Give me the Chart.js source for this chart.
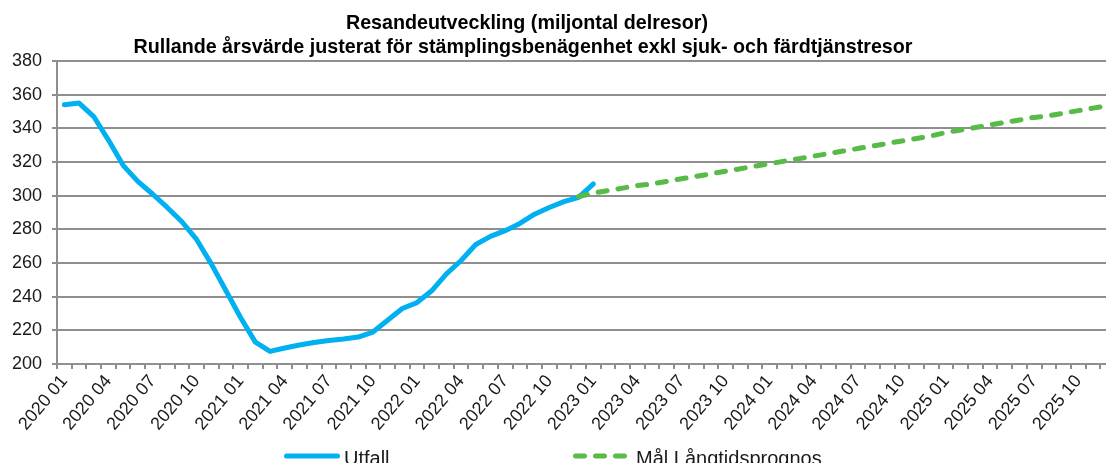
<!DOCTYPE html>
<html>
<head>
<meta charset="utf-8">
<script src="https://cdn.jsdelivr.net/npm/chart.js@4.4.1/dist/chart.umd.min.js"></script>
<style>
  html, body { margin: 0; padding: 0; overflow: hidden; background: #ffffff; width: 1106px; height: 463px; }
  canvas { display: block; }
</style>
</head>
<body>
<canvas id="c" width="1115" height="463" style="width:1115px;height:463px"></canvas>
<script>
// ---- Data ----
const titleLines = [
  'Resandeutveckling (miljontal delresor)',
  'Rullande årsvärde justerat för stämplingsbenägenhet exkl sjuk- och färdtjänstresor'
];
const years = ['2020', '2021', '2022', '2023', '2024', '2025'];
const months = ['01', '02', '03', '04', '05', '06', '07', '08', '09', '10', '11', '12'];
const categories = [];
for (const y of years) for (const m of months) categories.push(y + ' ' + m);

const yTicks = [200, 220, 240, 260, 280, 300, 320, 340, 360, 380];
const seriesNames = ['Utfall', 'Mål Långtidsprognos'];

// Utfall: 2020 01 .. 2023 01
const utfall = [
  354, 355, 347, 333, 318, 308.5, 301, 293, 284.5, 274, 259.5, 243.5,
  227.5, 213, 207.5, 209.5, 211.3, 212.8, 214, 214.8, 216, 219, 226, 233,
  236.5, 243.5, 253.5, 261.5, 271, 275.8, 279.2, 283.5, 289, 293, 296.5, 299,
  307
];
// Mål Långtidsprognos: 2022 12 .. 2025 12
const malStart = '2022 12';
const malLangtid = [
  299.5,
  301.5, 303, 304.5, 306, 307, 308.5, 310, 311.5, 313, 314.5, 316, 317.5,
  319, 320.5, 322, 323.5, 325, 326.5, 328, 329.5, 331, 332.5, 334, 335.5,
  337.5, 339, 340.5, 342, 343.5, 345, 346.5, 347.5, 349, 350.5, 352, 353.5
];

// ---- Build full-length series for the category axis ----
const utfallFull = categories.map((c, i) => (i < utfall.length ? utfall[i] : null));
const malOffset = categories.indexOf(malStart);
const malFull = categories.map((c, i) => (i >= malOffset && i - malOffset < malLangtid.length ? malLangtid[i - malOffset] : null));

const BLUE = '#00B0F0';
const GREEN = '#58BA47';
const GRID = '#8f8f8f';
const TEXT = '#1a1a1a';
const FONT = '"Liberation Sans", Arial, sans-serif';

const textPlugin = {
  id: 'textPlugin',
  afterDraw(chart) {
    const ctx = chart.ctx;
    ctx.save();
    // Title
    ctx.fillStyle = '#000000';
    ctx.textAlign = 'center';
    ctx.textBaseline = 'alphabetic';
    ctx.font = 'bold 19.7px ' + FONT;
    ctx.fillText(titleLines[0], 527, 29);
    ctx.fillText(titleLines[1], 523, 53);
    // Legend
    const ds = chart.data.datasets;
    const items = [
      { x0: 286.5, x1: 337.5, tx: 344 },
      { x0: 575.5, x1: 625.5, tx: 636 }
    ];
    ctx.textAlign = 'left';
    ctx.font = '20px ' + FONT;
    items.forEach((it, k) => {
      const d = ds[k];
      ctx.beginPath();
      ctx.strokeStyle = d.borderColor;
      ctx.lineWidth = d.borderWidth;
      ctx.lineCap = 'round';
      ctx.setLineDash(d.borderDash || []);
      ctx.moveTo(it.x0, 456);
      ctx.lineTo(it.x1, 456);
      ctx.stroke();
      ctx.setLineDash([]);
      ctx.fillStyle = TEXT;
      ctx.fillText(d.label, it.tx, 465);
    });
    ctx.restore();
  }
};

new Chart(document.getElementById('c'), {
  type: 'line',
  data: {
    labels: categories,
    datasets: [
      {
        label: seriesNames[0], data: utfallFull, borderColor: BLUE, backgroundColor: BLUE,
        borderWidth: 5, pointRadius: 0, pointHoverRadius: 0, tension: 0, fill: false,
        borderJoinStyle: 'round', borderCapStyle: 'round', order: 2
      },
      {
        label: seriesNames[1], data: malFull, borderColor: GREEN, backgroundColor: GREEN,
        borderWidth: 5, borderDash: [9, 11], borderCapStyle: 'round', pointRadius: 0,
        pointHoverRadius: 0, tension: 0, fill: false, order: 1
      }
    ]
  },
  options: {
    responsive: false,
    animation: false,
    devicePixelRatio: 1,
    layout: { padding: { top: 61, left: 0, right: 0, bottom: 0 } },
    plugins: { legend: { display: false }, title: { display: false }, tooltip: { enabled: false } },
    scales: {
      x: {
        offset: true,
        grid: { offset: true, drawOnChartArea: false, drawTicks: true, tickLength: 5, color: GRID, lineWidth: 2 },
        border: { display: true, color: GRID, width: 2 },
        ticks: {
          autoSkip: false, minRotation: 50, maxRotation: 50, padding: 2, color: TEXT,
          font: { family: FONT, size: 18 },
          callback: (v, i) => (i % 3 === 0 ? categories[i] : '')
        },
        afterFit: (s) => { s.height = 99; s.paddingLeft = 0; s.paddingRight = 0; }
      },
      y: {
        min: yTicks[0], max: yTicks[yTicks.length - 1],
        afterBuildTicks: (s) => { s.ticks = yTicks.map(v => ({ value: v })); },
        grid: { color: GRID, lineWidth: 2, tickLength: 5, drawTicks: true },
        border: { display: true, color: GRID, width: 2 },
        ticks: { padding: 10, color: TEXT, font: { family: FONT, size: 18 } },
        afterFit: (s) => { s.width = 57; }
      }
    }
  },
  plugins: [textPlugin]
});
</script>
</body>
</html>
